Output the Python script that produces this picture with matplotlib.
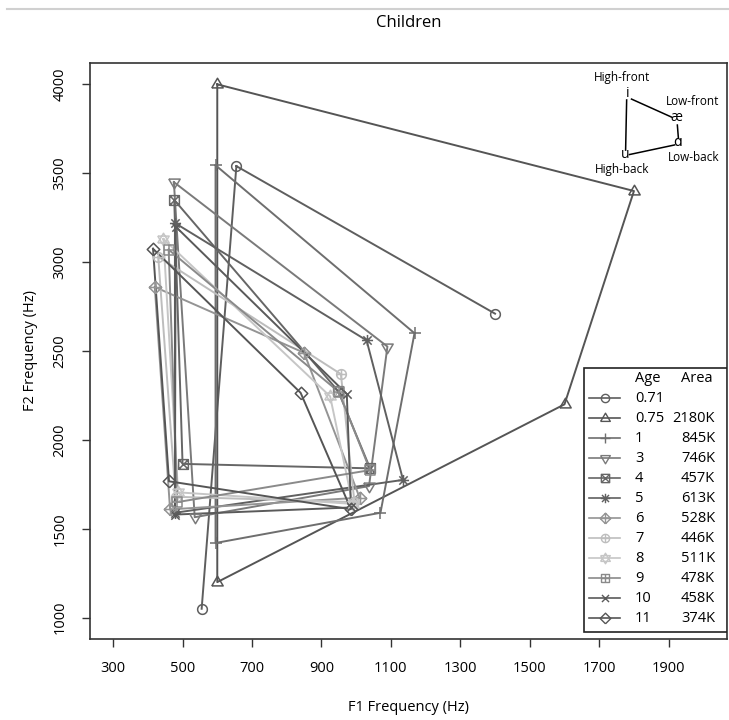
import matplotlib
matplotlib.use("Agg")
import matplotlib.pyplot as plt
import numpy as np
from matplotlib.lines import Line2D
from matplotlib.path import Path
from matplotlib.patches import Rectangle

plt.rcParams["font.family"] = ["Open Sans", "DejaVu Sans"]

nan = np.nan

# Formant means per age group, one list per vowel (order follows `ages`)
ages = ["0.71", "0.75", "1", "3", "4", "5", "6", "7", "8", "9", "10", "11"]
areas = ["", "2180K", "845K", "746K", "457K", "613K", "528K", "446K", "511K", "478K", "458K", "374K"]

i_f1 = [655, 600, 595, 475, 476, 478, 420, 430, 445, 460, 480, 415]
i_f2 = [3540, 4000, 3545, 3450, 3350, 3220, 2860, 3030, 3130, 3070, 3200, 3075]
ae_f1 = [1400, 1800, 1168, 1090, 948, 1030, 850, 956, 925, 950, 973, 840]
ae_f2 = [2710, 3400, 2600, 2525, 2275, 2560, 2490, 2370, 2245, 2270, 2258, 2265]
a_f1 = [nan, 1600, 1070, 1037, 1040, 1135, 1010, 995, 990, 1040, 985, 985]
a_f2 = [nan, 2200, 1590, 1740, 1840, 1775, 1675, 1650, 1640, 1830, 1620, 1610]
u_f1 = [555, 600, 595, 535, 500, 478, 464, 480, 487, 485, 478, 461]
u_f2 = [1050, 1200, 1420, 1565, 1865, 1590, 1609, 1680, 1705, 1650, 1580, 1767]

greys = ["#5e5e5e", "#555555", "#6e6e6e", "#7a7a7a", "#666666", "#606060",
         "#949494", "#bdbdbd", "#c6c6c6", "#8a8a8a", "#5a5a5a", "#555555"]


# R-style plotting symbols built as open paths
def seg_path(segs):
    verts, codes = [], []
    for s in segs:
        verts += s
        codes += [Path.MOVETO] + [Path.LINETO] * (len(s) - 1)
    return Path(verts, codes)


theta = np.linspace(0, 2 * np.pi, 40)
circ = list(zip(np.cos(theta), np.sin(theta)))
box = [(-1, -1), (1, -1), (1, 1), (-1, 1), (-1, -1)]
diam = [(0, -1), (1, 0), (0, 1), (-1, 0), (0, -1)]
tri_up = [(-1, -0.6), (1, -0.6), (0, 1.1), (-1, -0.6)]
tri_dn = [(-1, 0.6), (1, 0.6), (0, -1.1), (-1, 0.6)]
plus = [[(-1, 0), (1, 0)], [(0, -1), (0, 1)]]
cross = [[(-1, -1), (1, 1)], [(-1, 1), (1, -1)]]

markers = [
    seg_path([circ]),
    seg_path([tri_up]),
    seg_path(plus),
    seg_path([tri_dn]),
    seg_path([box] + cross),
    seg_path(plus + [[(-0.75, -0.75), (0.75, 0.75)], [(-0.75, 0.75), (0.75, -0.75)]]),
    seg_path([diam] + plus),
    seg_path([circ] + plus),
    seg_path([tri_up, tri_dn]),
    seg_path([box] + plus),
    seg_path(cross),
    seg_path([diam]),
]
msizes = [7, 9, 9, 9, 7, 8, 9, 7, 9, 7, 6, 9]

fig = plt.figure(figsize=(7.29, 7.2), dpi=100)
ax = fig.add_axes([89.5 / 729, 1 - 639 / 720, 637.5 / 729, 576 / 720])

for k in range(len(ages)):
    xs = [i_f1[k], ae_f1[k], a_f1[k], u_f1[k], i_f1[k]]
    ys = [i_f2[k], ae_f2[k], a_f2[k], u_f2[k], i_f2[k]]
    ax.plot(xs, ys, color=greys[k], lw=1.4, zorder=2)
    ax.plot(xs[:4], ys[:4], ls="none", marker=markers[k], ms=msizes[k],
            mfc="none", mec=greys[k], mew=1.1, zorder=3)

ax.set_xlim(232, 2068)
ax.set_ylim(880, 4120)
ax.set_xticks(np.arange(300, 2000, 200))
ax.set_yticks(np.arange(1000, 4001, 500))
ax.tick_params(axis="both", labelsize=10.5, length=6, width=1, color="#333333")
ax.tick_params(axis="x", pad=10)
ax.tick_params(axis="y", pad=10)
for lab in ax.get_yticklabels():
    lab.set_rotation(90)
    lab.set_va("center")
for sp in ax.spines.values():
    sp.set_linewidth(1.2)
    sp.set_color("#333333")

ax.set_xlabel("F1 Frequency (Hz)", fontsize=10.5, labelpad=17)
ax.set_ylabel("F2 Frequency (Hz)", fontsize=10.5, labelpad=10)
fig.text(409 / 729, 1 - 23 / 720, "Children", ha="center", va="center", fontsize=12)

# vowel-space key in the upper right corner
key_pts = {"i": (1782, 3946), "æ": (1923, 3811), "ɑ": (1925, 3670), "u": (1776, 3605)}
key_labels = [("High-front", 1767, 4041), ("Low-front", 1969, 3901),
              ("Low-back", 1972, 3586), ("High-back", 1767, 3520)]
for sym, (x, y) in key_pts.items():
    ax.text(x, y, sym, ha="center", va="center", fontsize=10)
for txt, x, y in key_labels:
    ax.text(x, y, txt, ha="center", va="center", fontsize=8.5)
key_lines = [((1793, 1908), (3917, 3816)), ((1925, 1928), (3771, 3698)),
             ((1917, 1787), (3659, 3605)), ((1776, 1779), (3630, 3912))]
for xx, yy in key_lines:
    ax.plot(xx, yy, color="black", lw=1.1)

# legend: age and vowel-space area
lx0, ly0, lx1, ly1 = 0.7757, 0.0122, 1.0, 0.4705
ax.add_patch(Rectangle((lx0, ly0), lx1 - lx0, ly1 - ly0, transform=ax.transAxes,
                       fill=True, facecolor="white", edgecolor="#222222", lw=1.2, zorder=5))
row0 = 0.4531
step = 20 / 576
ax.text(0.8557, row0, "Age", transform=ax.transAxes, va="center", ha="left", fontsize=10.5, zorder=6)
ax.text(0.977, row0, "Area", transform=ax.transAxes, va="center", ha="right", fontsize=10.5, zorder=6)
for k in range(len(ages)):
    y = row0 - step * (k + 1)
    ax.add_line(Line2D([0.7835, 0.832], [y, y], transform=ax.transAxes,
                       color=greys[k], lw=1.2, zorder=6))
    ax.add_line(Line2D([0.8086], [y], transform=ax.transAxes, ls="none",
                       marker=markers[k], ms=msizes[k] * 0.85, mfc="none",
                       mec=greys[k], mew=1.0, zorder=6))
    ax.text(0.8557, y, ages[k], transform=ax.transAxes, va="center", ha="left", fontsize=10.5, zorder=6)
    ax.text(0.9812, y, areas[k], transform=ax.transAxes, va="center", ha="right", fontsize=10.5, zorder=6)

# faint page rule along the top edge
fig.add_artist(Line2D([0.01, 1.0], [0.988, 0.988], color="#d0d0d0", lw=1.5))

fig.savefig("out.png", dpi=100)
